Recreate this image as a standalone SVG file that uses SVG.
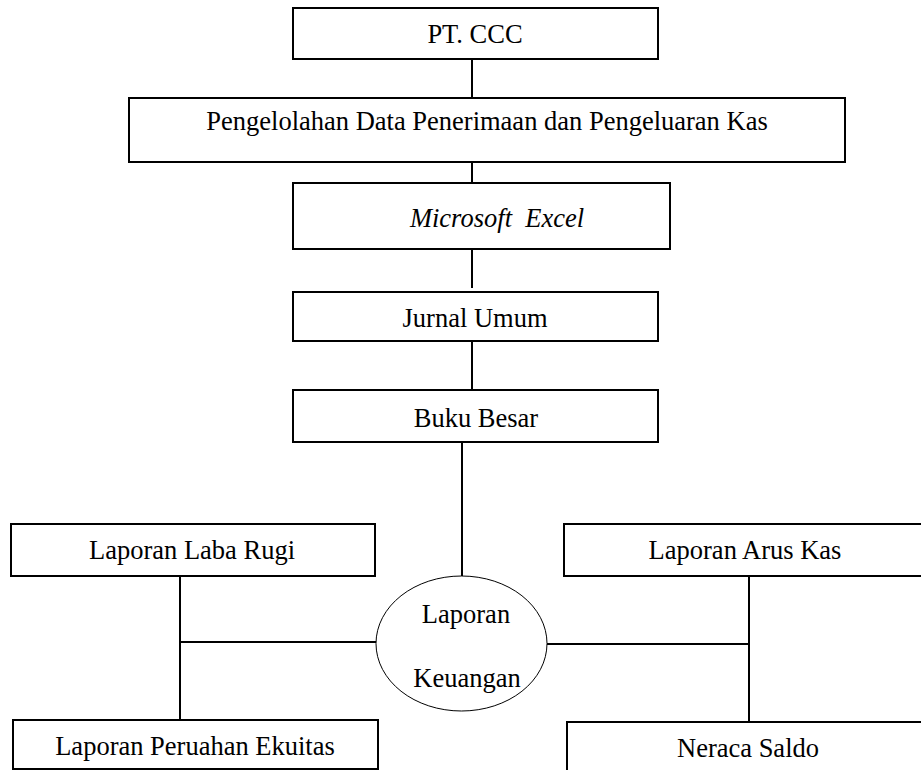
<svg xmlns="http://www.w3.org/2000/svg" width="921" height="770" viewBox="0 0 921 770">
<style>
.box{fill:#fff;stroke:#000;stroke-width:2}
.ell{fill:#fff;stroke:#000;stroke-width:1}
.ln{stroke:#000;stroke-width:2;fill:none}
text{font-family:"Liberation Serif","Times New Roman",serif;font-size:26.5px;fill:#000;text-anchor:middle}
</style>
<rect width="921" height="770" fill="#fff"/>
<g id="connectors">
<line class="ln" x1="472" y1="59" x2="472" y2="98"/>
<line class="ln" x1="472" y1="162" x2="472" y2="183"/>
<line class="ln" x1="472" y1="249" x2="472" y2="288"/>
<line class="ln" x1="472" y1="341" x2="472" y2="389"/>
<line class="ln" x1="462" y1="442" x2="462" y2="577"/>
<line class="ln" x1="180" y1="576" x2="180" y2="720"/>
<line class="ln" x1="180" y1="642" x2="380" y2="642"/>
<line class="ln" x1="749" y1="576" x2="749" y2="722"/>
<line class="ln" x1="547" y1="644" x2="749" y2="644"/>
</g>
<g id="pt-ccc">
<rect class="box" x="293" y="8" width="365" height="51"/>
<text x="475" y="43">PT. CCC</text>
</g>
<g id="pengelolahan">
<rect class="box" x="129" y="98" width="716" height="64"/>
<text x="487" y="130">Pengelolahan Data Penerimaan dan Pengeluaran Kas</text>
</g>
<g id="excel">
<rect class="box" x="293" y="183" width="377" height="66"/>
<text x="497" y="227" font-style="italic" xml:space="preserve">Microsoft  Excel</text>
</g>
<g id="jurnal">
<rect class="box" x="293" y="292" width="365" height="49"/>
<text x="475" y="327">Jurnal Umum</text>
</g>
<g id="buku-besar">
<rect class="box" x="293" y="390" width="365" height="52"/>
<text x="476" y="427">Buku Besar</text>
</g>
<g id="laporan-keuangan">
<ellipse class="ell" cx="461.5" cy="643.5" rx="85.5" ry="67.5"/>
<text x="466" y="623">Laporan</text>
<text x="467" y="687">Keuangan</text>
</g>
<g id="laba-rugi">
<rect class="box" x="11" y="524" width="364" height="52"/>
<text x="192" y="559">Laporan Laba Rugi</text>
</g>
<g id="ekuitas">
<rect class="box" x="13" y="720" width="365" height="49"/>
<text x="195" y="755">Laporan Peruahan Ekuitas</text>
</g>
<g id="arus-kas">
<rect class="box" x="564" y="524" width="370" height="52"/>
<text x="745" y="559">Laporan Arus Kas</text>
</g>
<g id="neraca-saldo">
<rect class="box" x="567" y="722" width="370" height="60"/>
<text x="748" y="757">Neraca Saldo</text>
</g>
</svg>
